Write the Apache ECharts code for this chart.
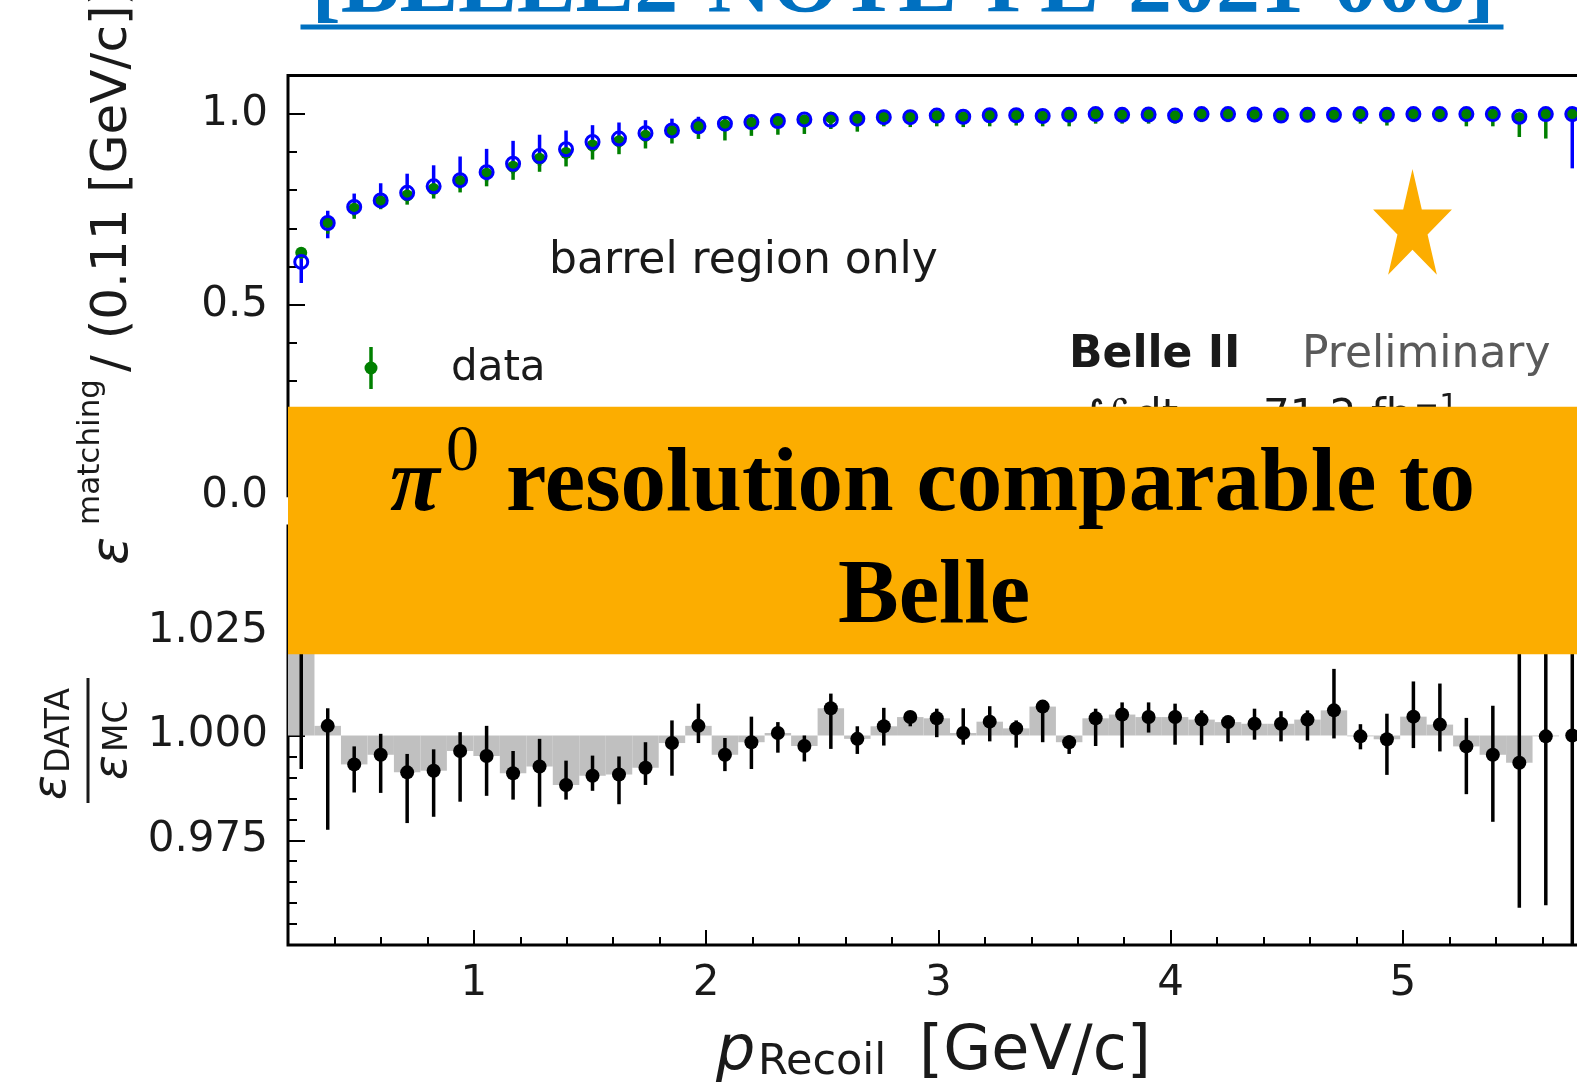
<!DOCTYPE html>
<html><head><meta charset="utf-8">
<script src="https://cdn.jsdelivr.net/npm/echarts@6/dist/echarts.min.js"></script>
<style>html,body{margin:0;padding:0;background:#fff;overflow:hidden}#c{width:1577px;height:1085px}</style>
</head><body><div id="c"></div><script>
// ---------------- data ----------------
const pCenter = [0.257,0.371,0.485,0.599,0.713,0.827,0.941,1.055,1.169,1.283,1.397,1.511,1.625,1.739,1.853,1.967,2.081,2.195,2.309,2.423,2.537,2.651,2.765,2.879,2.993,3.107,3.221,3.335,3.449,3.563,3.677,3.791,3.905,4.019,4.133,4.247,4.361,4.475,4.589,4.703,4.817,4.931,5.045,5.159,5.273,5.387,5.501,5.615,5.729];
const binWidth = 0.114;

const effMC = [0.612,0.714,0.756,0.773,0.793,0.810,0.826,0.847,0.869,0.889,0.907,0.926,0.935,0.949,0.956,0.967,0.974,0.978,0.981,0.985,0.984,0.987,0.991,0.991,0.995,0.992,0.996,0.996,0.994,0.997,0.999,0.997,0.998,0.995,0.999,0.999,0.998,0.995,0.997,0.997,0.999,0.997,0.999,0.999,0.999,0.999,0.992,0.999,0.999];
const effMCUp = [0.010,0.032,0.035,0.045,0.050,0.055,0.062,0.061,0.060,0.056,0.049,0.044,0.042,0.034,0.031,0.025,0.019,0.016,0.014,0.011,0.011,0.009,0.007,0.006,0.004,0.005,0.003,0.003,0.004,0.002,0.001,0.002,0.002,0.003,0.001,0.001,0.002,0.003,0.002,0.002,0.001,0.002,0.001,0.001,0.001,0.001,0.006,0.001,0.001];
const effMCDown = [0.055,0.040,0.024,0.018,0.020,0.020,0.022,0.024,0.026,0.026,0.026,0.026,0.024,0.022,0.020,0.018,0.016,0.014,0.012,0.010,0.009,0.008,0.007,0.006,0.006,0.006,0.005,0.005,0.005,0.004,0.004,0.004,0.004,0.004,0.004,0.004,0.004,0.004,0.004,0.004,0.004,0.004,0.004,0.004,0.004,0.004,0.006,0.004,0.142];

const effData = [0.636,0.716,0.751,0.770,0.786,0.803,0.823,0.843,0.861,0.882,0.897,0.917,0.928,0.942,0.954,0.969,0.970,0.976,0.982,0.983,0.990,0.986,0.993,0.990,0.994,0.991,0.996,0.996,0.993,0.997,1.000,0.997,0.998,0.994,1.000,1.000,0.998,0.994,0.997,0.997,1.000,0.997,1.000,1.000,0.998,0.997,0.989,0.999,0.999];
const effDataUp = [0.008,0.008,0.008,0.008,0.008,0.008,0.008,0.008,0.008,0.008,0.008,0.008,0.007,0.007,0.007,0.006,0.006,0.006,0.005,0.005,0.005,0.005,0.004,0.004,0.004,0.004,0.003,0.003,0.003,0.003,0.000,0.003,0.002,0.003,0.000,0.000,0.002,0.003,0.003,0.003,0.000,0.003,0.000,0.000,0.002,0.003,0.008,0.001,0.001];
const effDataDown = [0.008,0.030,0.026,0.020,0.024,0.025,0.029,0.033,0.034,0.034,0.035,0.037,0.034,0.033,0.032,0.035,0.040,0.034,0.037,0.036,0.030,0.033,0.026,0.025,0.027,0.026,0.029,0.027,0.026,0.030,0.026,0.023,0.024,0.020,0.022,0.022,0.020,0.016,0.019,0.019,0.026,0.028,0.022,0.022,0.031,0.030,0.050,0.064,0.010];

const ratio = [1.040,1.0023,0.9931,0.9954,0.9912,0.9916,0.9963,0.9951,0.9910,0.9926,0.9882,0.9904,0.9907,0.9923,0.9982,1.0023,0.9954,0.9984,1.0006,0.9975,1.0065,0.9992,1.0022,1.0044,1.0041,1.0006,1.0033,1.0017,1.0069,0.9984,1.0041,1.0050,1.0044,1.0044,1.0038,1.0032,1.0028,1.0028,1.0038,1.0060,0.9998,0.9991,1.0045,1.0026,0.9974,0.9954,0.9935,0.9998,1.0000];
const ratioLow = [0.992,0.9775,0.9864,0.9863,0.9791,0.9806,0.9842,0.9856,0.9847,0.9830,0.9847,0.9868,0.9836,0.9882,0.9904,0.9982,0.9915,0.9920,0.9959,0.9938,0.9968,0.9956,0.9976,1.0022,0.9996,0.9978,0.9986,0.9971,0.9984,0.9956,0.9975,0.9971,1.0007,0.9978,0.9977,0.9982,0.9990,0.9986,0.9988,0.9993,0.9967,0.9906,0.9970,0.9962,0.9860,0.9794,0.9589,0.9595,0.930];
const ratioHigh = [1.090,1.0065,0.9974,1.0004,0.9956,0.9967,1.0008,1.0023,0.9963,0.9992,0.9940,0.9952,0.9950,0.9984,1.0036,1.0076,0.9994,1.0045,1.0032,1.0000,1.0100,1.0022,1.0066,1.0055,1.0064,1.0065,1.0070,1.0036,1.0077,1.0000,1.0064,1.0079,1.0079,1.0076,1.0060,1.0044,1.0064,1.0058,1.0060,1.0159,1.0027,1.0052,1.0129,1.0124,1.0042,1.0071,1.0281,1.0400,1.070];

const xMajor = [1,2,3,4,5];
const xMinor = [0.4,0.6,0.8,1.2,1.4,1.6,1.8,2.2,2.4,2.6,2.8,3.2,3.4,3.6,3.8,4.2,4.4,4.6,4.8,5.2,5.4,5.6,5.8];
const yTopMajor = [0,0.5,1.0];
const yTopMinor = [0.1,0.2,0.3,0.4,0.6,0.7,0.8,0.9];
const yBotMajor = [0.975,1.0,1.025];
const yBotMinor = [0.955,0.96,0.965,0.97,0.98,0.985,0.99,0.995,1.005,1.01,1.015,1.02,1.03,1.035,1.04,1.045];

// ---------------- chart ----------------
const chart = echarts.init(document.getElementById('c'), null, {renderer: 'canvas'});
const F = '"DejaVu Sans", sans-serif';
const SERIF = '"Liberation Serif", serif';
const TXT = '#1a1a1a';
const ORANGE = '#FCAD00';
const GL = 288, GW = 1324;

function errRender(color, w) {
  return function (params, api) {
    const x = api.value(0);
    const a = api.coord([x, api.value(1)]);
    const b = api.coord([x, api.value(2)]);
    const cs = params.coordSys;
    const cl = v => Math.max(cs.y, Math.min(cs.y + cs.height, v));
    return {type: 'line', shape: {x1: a[0], y1: cl(a[1]), x2: b[0], y2: cl(b[1])},
            style: {stroke: color, lineWidth: w}};
  };
}
function barRender(params, api) {
  const x = api.value(0), v = api.value(1);
  const p0 = api.coord([x - binWidth / 2, 1]);
  const p1 = api.coord([x + binWidth / 2, v]);
  const cs = params.coordSys;
  const cl = y => Math.max(cs.y, Math.min(cs.y + cs.height, y));
  const y0 = cl(p0[1]), y1 = cl(p1[1]);
  return {type: 'rect', shape: {x: p0[0], y: Math.min(y0, y1), width: p1[0] - p0[0], height: Math.abs(y1 - y0)},
          style: {fill: '#c0c0c0'}};
}
function xAx(grid, vals, len, labels) {
  return {gridIndex: grid, type: 'value', min: 0.2, max: 5.9, position: 'bottom',
    axisLine: {show: false}, splitLine: {show: false},
    axisTick: {show: true, inside: true, length: len, customValues: vals, lineStyle: {color: '#000', width: 2}},
    axisLabel: labels ? {show: true, customValues: vals, formatter: v => String(Math.round(v)),
      fontFamily: F, fontSize: 42, color: TXT, margin: 18} : {show: false}};
}
function yAx(grid, min, max, vals, len, labels, dec) {
  return {gridIndex: grid, type: 'value', min: min, max: max, position: 'left',
    axisLine: {show: false}, splitLine: {show: false},
    axisTick: {show: true, inside: true, length: len, customValues: vals, lineStyle: {color: '#000', width: 2}},
    axisLabel: labels ? {show: true, customValues: vals, formatter: v => Number(v).toFixed(dec),
      fontFamily: F, fontSize: 42, color: TXT, margin: 20, padding: [6, 0, 0, 0]} : {show: false}};
}

const mcErr = pCenter.map((x, i) => [x, effMC[i] - effMCDown[i], effMC[i] + effMCUp[i]]);
const dataErr = pCenter.map((x, i) => [x, effData[i] - effDataDown[i], effData[i] + effDataUp[i]]);
const ratioErr = pCenter.map((x, i) => [x, ratioLow[i], ratioHigh[i]]);

// star polygon (decoration)
function starPts(cx, cy, R, sx) {
  const pts = [];
  for (let k = 0; k < 10; k++) {
    const r = k % 2 === 0 ? R : R * 0.382;
    const a = -Math.PI / 2 + k * Math.PI / 5;
    pts.push([cx + r * Math.cos(a) * sx, cy + r * Math.sin(a)]);
  }
  return pts;
}

function T(x, y, text, font, opts, z) {
  return {type: 'text', x: x, y: y, z: z || 10,
    style: Object.assign({text: text, font: font, fill: TXT, align: 'left', verticalAlign: 'middle'}, opts || {})};
}
function R(x, y, text, font, opts) { // rotated (bottom-to-top) text
  const e = T(x, y, text, font, opts);
  e.rotation = Math.PI / 2;
  return e;
}

const gridBase = {left: GL, width: GW, show: true, borderColor: '#000', borderWidth: 3,
  backgroundColor: 'transparent', containLabel: false, outerBoundsMode: 'none'};

const option = {
  animation: false,
  backgroundColor: '#fff',
  grid: [
    Object.assign({top: 75.5, height: 420.3}, gridBase),
    Object.assign({top: 526, height: 419}, gridBase)
  ],
  xAxis: [xAx(0, xMajor, 15, false), xAx(0, xMinor, 8, false), xAx(1, xMajor, 15, true), xAx(1, xMinor, 8, false)],
  yAxis: [yAx(0, 0, 1.1, yTopMajor, 17, true, 1), yAx(0, 0, 1.1, yTopMinor, 9, false),
          yAx(1, 0.95, 1.05, yBotMajor, 17, true, 3), yAx(1, 0.95, 1.05, yBotMinor, 9, false)],
  series: [
    {type: 'custom', name: 'MC err', xAxisIndex: 0, yAxisIndex: 0, renderItem: errRender('#0000ff', 3.5), data: mcErr, z: 2},
    {type: 'custom', name: 'data err', xAxisIndex: 0, yAxisIndex: 0, renderItem: errRender('#008000', 3.5), data: dataErr, z: 3},
    {type: 'scatter', name: 'data', xAxisIndex: 0, yAxisIndex: 0, symbol: 'circle', symbolSize: 12,
      itemStyle: {color: '#008000', opacity: 1}, data: pCenter.map((x, i) => [x, effData[i]]), z: 4},
    {type: 'scatter', name: 'MC', xAxisIndex: 0, yAxisIndex: 0, symbol: 'circle', symbolSize: 13,
      itemStyle: {color: 'rgba(0,0,0,0)', borderColor: '#0000ff', borderWidth: 3, opacity: 1},
      data: pCenter.map((x, i) => [x, effMC[i]]), z: 5},
    {type: 'custom', name: 'ratio bars', xAxisIndex: 2, yAxisIndex: 2, renderItem: barRender,
      data: pCenter.map((x, i) => [x, ratio[i]]), z: 2},
    {type: 'custom', name: 'ratio err', xAxisIndex: 2, yAxisIndex: 2, renderItem: errRender('#000', 3.5), data: ratioErr, z: 3},
    {type: 'scatter', name: 'ratio', xAxisIndex: 2, yAxisIndex: 2, symbol: 'circle', symbolSize: 14,
      itemStyle: {color: '#000', opacity: 1}, data: pCenter.map((x, i) => [x, ratio[i]]), z: 4}
  ],
  graphic: [
    // title (cut off at top)
    T(903, -12, '[BELLE2-NOTE-PL-2021-008]', 'bold 88px ' + SERIF, {fill: '#0070C0', align: 'center'}),
    {type: 'rect', z: 10, shape: {x: 300.5, y: 24.5, width: 1203, height: 5}, style: {fill: '#0070C0'}},
    // annotations
    T(549, 262, 'barrel region only', '44px ' + F),
    {type: 'line', z: 10, shape: {x1: 371, y1: 347, x2: 371, y2: 389}, style: {stroke: '#008000', lineWidth: 3.5}},
    {type: 'circle', z: 11, shape: {cx: 371, cy: 368, r: 6.5}, style: {fill: '#008000'}},
    T(451, 369, 'data', '42px ' + F),
    T(1069, 356, 'Belle II', 'bold 44px ' + F),
    T(1302, 356, 'Preliminary', '44px ' + F, {fill: '#5a5a5a'}),
    T(1081, 421, '∫', '46px ' + F),
    T(1105, 418, 'ℒ', 'italic 42px ' + F),
    T(1135, 418, 'dt', '42px ' + F),
    T(1200, 418, '=', '42px ' + F),
    T(1263, 418, '71.2', '42px ' + F),
    T(1371, 418, 'fb', '42px ' + F),
    T(1414, 407, '−1', '30px ' + F),
    // star
    {type: 'polygon', z: 10, shape: {points: starPts(1412.5, 227.5, 58.4, 0.71)}, style: {fill: ORANGE}},
    // y-axis labels
    R(113.4, 565, 'ε', 'italic 52px ' + F),
    R(91, 525, 'matching', '31px ' + F),
    R(113.4, 388, ' / (0.11 [GeV/c])', '50px ' + F),
    R(53, 800, 'ε', 'italic 46px ' + F),
    R(60, 773, 'DATA', '33px ' + F),
    {type: 'rect', z: 10, shape: {x: 86.5, y: 678, width: 3, height: 125}, style: {fill: TXT}},
    R(114, 780, 'ε', 'italic 46px ' + F),
    R(118, 752, 'MC', '33px ' + F),
    // x-axis label
    T(716, 1053, 'p', 'italic 62px ' + F),
    T(758, 1063, 'Recoil', '43px ' + F),
    T(919, 1053, '[GeV/c]', '62px ' + F),
    // banner
    {type: 'rect', z: 100, shape: {x: 288, y: 406.7, width: 1300, height: 247.6}, style: {fill: ORANGE}},
    T(390, 486, 'π', 'italic bold 91px ' + SERIF, {fill: '#000'}, 101),
    T(446, 453, '0', '66px ' + SERIF, {fill: '#000'}, 101),
    T(506, 486, 'resolution comparable to', 'bold 91px ' + SERIF, {fill: '#000'}, 101),
    T(934, 598, 'Belle', 'bold 91px ' + SERIF, {fill: '#000', align: 'center'}, 101)
  ]
};
chart.setOption(option);
</script></body></html>
